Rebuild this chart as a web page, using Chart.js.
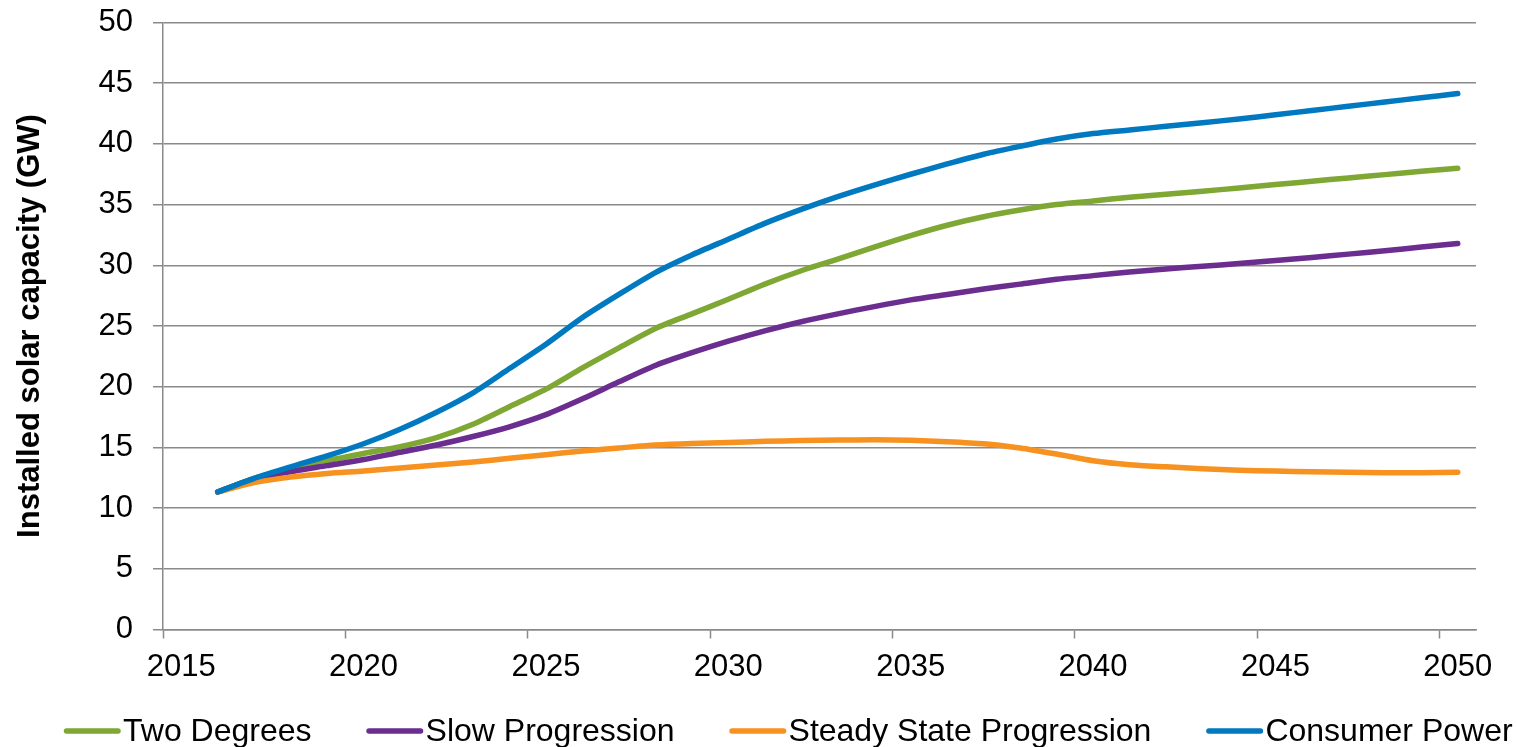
<!DOCTYPE html>
<html>
<head>
<meta charset="utf-8">
<title>Installed solar capacity</title>
<script src="https://cdn.jsdelivr.net/npm/chart.js@4/dist/chart.umd.min.js"></script>
<style>
  html, body { margin: 0; padding: 0; background: #fff; }
  #wrap { width: 1517px; height: 747px; }
</style>
</head>
<body>
<div id="wrap"><canvas id="chart" width="1517" height="747"></canvas></div>
<script>
// Years on the category axis (2015 is an empty leading slot)
const years = [2015, 2016, 2017, 2018, 2019, 2020, 2021, 2022, 2023, 2024, 2025,
  2026, 2027, 2028, 2029, 2030, 2031, 2032, 2033, 2034, 2035,
  2036, 2037, 2038, 2039, 2040, 2041, 2042, 2043, 2044, 2045,
  2046, 2047, 2048, 2049, 2050];

// Installed solar capacity (GW) per scenario
const twoDegrees = [null, 11.33, 12.45, 13.2, 13.9, 14.5, 15.05, 15.8, 16.9, 18.35, 19.8,
  21.55, 23.2, 24.8, 26.0, 27.2, 28.45, 29.55, 30.5, 31.5, 32.45,
  33.3, 34.0, 34.55, 35.0, 35.3, 35.6, 35.85, 36.1, 36.37, 36.65,
  36.92, 37.2, 37.47, 37.75, 38.0];

const slowProgression = [null, 11.33, 12.4, 13.0, 13.5, 14.0, 14.6, 15.2, 15.9, 16.7, 17.7,
  19.0, 20.4, 21.75, 22.8, 23.75, 24.6, 25.35, 26.0, 26.6, 27.15,
  27.6, 28.05, 28.45, 28.85, 29.15, 29.45, 29.7, 29.92, 30.15, 30.4,
  30.65, 30.92, 31.2, 31.5, 31.8];

const steadyState = [null, 11.33, 12.1, 12.55, 12.85, 13.05, 13.3, 13.55, 13.8, 14.1, 14.4,
  14.7, 14.95, 15.2, 15.33, 15.4, 15.5, 15.56, 15.6, 15.62, 15.58,
  15.47, 15.3, 14.95, 14.45, 13.9, 13.57, 13.4, 13.25, 13.12, 13.05,
  13.0, 12.95, 12.92, 12.92, 12.95];

const consumerPower = [null, 11.33, 12.45, 13.4, 14.3, 15.3, 16.5, 17.9, 19.5, 21.5, 23.5,
  25.7, 27.6, 29.4, 30.85, 32.15, 33.45, 34.6, 35.65, 36.6, 37.5,
  38.35, 39.15, 39.8, 40.4, 40.85, 41.15, 41.45, 41.75, 42.05, 42.4,
  42.75, 43.1, 43.45, 43.8, 44.15];

const seriesNames = ['Two Degrees', 'Slow Progression', 'Steady State Progression', 'Consumer Power'];
const seriesColors = ['#7ea733', '#6b2d8f', '#f7911f', '#0079c1'];

const FONT = '"Liberation Sans", Arial, Helvetica, sans-serif';
const AXIS_GREY = '#8a8a8a';

function makeSet(i, data, order) {
  return {
    label: seriesNames[i],
    data: data,
    borderColor: seriesColors[i],
    backgroundColor: seriesColors[i],
    borderWidth: 5.5,
    borderCapStyle: 'round',
    borderJoinStyle: 'round',
    pointRadius: 0,
    pointHoverRadius: 0,
    tension: 0.25,
    fill: false,
    order: order
  };
}

// Legend drawn as a line swatch followed closely by its label
const lineLegend = {
  id: 'lineLegend',
  afterDraw(chart) {
    const ctx = chart.ctx;
    ctx.save();
    ctx.font = '32px ' + FONT;
    ctx.textBaseline = 'middle';
    ctx.textAlign = 'left';
    const y = 731;
    let x = 64;
    chart.data.datasets.forEach(ds => {
      ctx.strokeStyle = ds.borderColor;
      ctx.lineWidth = 5.5;
      ctx.lineCap = 'round';
      ctx.beginPath();
      ctx.moveTo(x + 2.5, y);
      ctx.lineTo(x + 54, y);
      ctx.stroke();
      x += 59;
      ctx.fillStyle = '#000';
      ctx.fillText(ds.label, x, y + 1);
      x += ctx.measureText(ds.label).width + 55;
    });
    ctx.restore();
  }
};

new Chart(document.getElementById('chart'), {
  type: 'line',
  data: {
    labels: years,
    datasets: [
      makeSet(0, twoDegrees, 4),
      makeSet(1, slowProgression, 3),
      makeSet(2, steadyState, 2),
      makeSet(3, consumerPower, 1)
    ]
  },
  options: {
    responsive: false,
    animation: false,
    events: [],
    layout: { padding: { top: 22.5, right: 41, bottom: 57.5, left: 0 } },
    plugins: {
      legend: { display: false },
      tooltip: { enabled: false }
    },
    scales: {
      x: {
        type: 'category',
        offset: true,
        grid: {
          offset: true,
          drawOnChartArea: false,
          tickLength: 9,
          tickWidth: 1.5,
          tickColor: (c) => (years[c.index] % 5 === 0 ? AXIS_GREY : 'rgba(0,0,0,0)')
        },
        border: { color: AXIS_GREY, width: 1.5 },
        ticks: {
          autoSkip: false,
          maxRotation: 0,
          minRotation: 0,
          padding: 10,
          color: '#000',
          font: { family: FONT, size: 31 },
          callback: (v, i) => (years[i] % 5 === 0 ? String(years[i]) : '')
        },
        afterFit: (s) => { s.height = 60; s.paddingLeft = 0; s.paddingRight = 0; }
      },
      y: {
        min: 0,
        max: 50,
        ticks: {
          stepSize: 5,
          padding: 20,
          color: '#000',
          font: { family: FONT, size: 31 }
        },
        grid: { color: AXIS_GREY, lineWidth: 1.5, tickLength: 10 },
        border: { color: AXIS_GREY, width: 1.5 },
        title: {
          display: true,
          text: 'Installed solar capacity (GW)',
          color: '#000',
          font: { family: FONT, size: 31, weight: 'bold' },
          padding: { top: 12, bottom: 0 }
        },
        afterFit: (s) => { s.width = 163; s.paddingTop = 0; s.paddingBottom = 0; }
      }
    }
  },
  plugins: [lineLegend]
});
</script>
</body>
</html>
